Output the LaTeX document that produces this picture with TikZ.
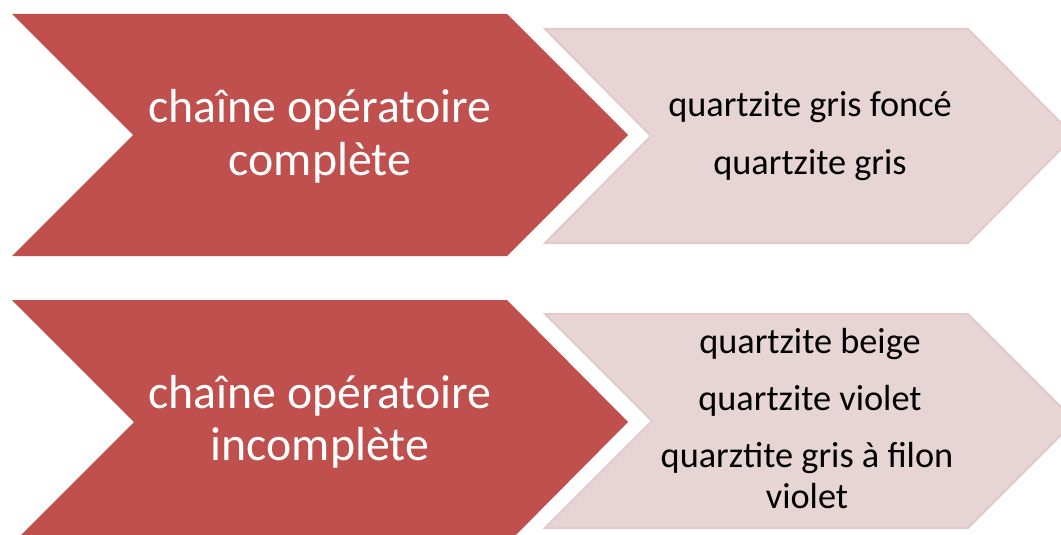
\documentclass[tikz,border=0pt]{standalone}
\usepackage{fontspec}
\setmainfont{Carlito}
\definecolor{redc}{HTML}{C0504D}
\definecolor{lightc}{HTML}{E7D5D6}
\definecolor{lightb}{HTML}{E2C9CA}
\begin{document}
\begin{tikzpicture}[x=1pt,y=-1pt,
  redchev/.style={fill=redc},
  lightchev/.style={fill=lightc,draw=lightb,line width=2pt,line join=miter},
  bigtext/.style={text=white,font=\fontsize{47.8}{53}\selectfont,anchor=base,inner sep=0pt},
  smalltext/.style={text=black,font=\fontsize{36.3}{40}\selectfont,anchor=base,inner sep=0pt}]
\useasboundingbox (0,0) rectangle (1061,535);
\clip (0,0) rectangle (1061,535);
% top row
\path[redchev] (12,14) -- (507,14) -- (628,135) -- (507,256) -- (12,256) -- (133,135) -- cycle;
\path[lightchev] (545,29) -- (968,29) -- (1074,136) -- (968,243) -- (545,243) -- (651,136) -- cycle;
% bottom row
\path[redchev] (12,300) -- (507,300) -- (628,422) -- (507,544) -- (12,544) -- (134,422) -- cycle;
\path[lightchev] (545,314) -- (968,314) -- (1075,421) -- (968,528) -- (545,528) -- (652,421) -- cycle;
% texts
\node[bigtext] (r1a) at (320,122) {chaîne opératoire};
\node[bigtext] (r1b) at (320,175) {complète};
\node[smalltext] (l1a) at (810,117) {quartzite gris foncé};
\node[smalltext] (l1b) at (810,174) {quartzite gris};
\node[bigtext] (r2a) at (320,408) {chaîne opératoire};
\node[bigtext] (r2b) at (320,460) {incomplète};
\node[smalltext] (l2a) at (810,353) {quartzite beige};
\node[smalltext] (l2b) at (810,410) {quartzite violet};
\node[smalltext] (l2c) at (807,467) {quarztite gris à filon};
\node[smalltext] (l2d) at (807,508) {violet};
\end{tikzpicture}
\end{document}
